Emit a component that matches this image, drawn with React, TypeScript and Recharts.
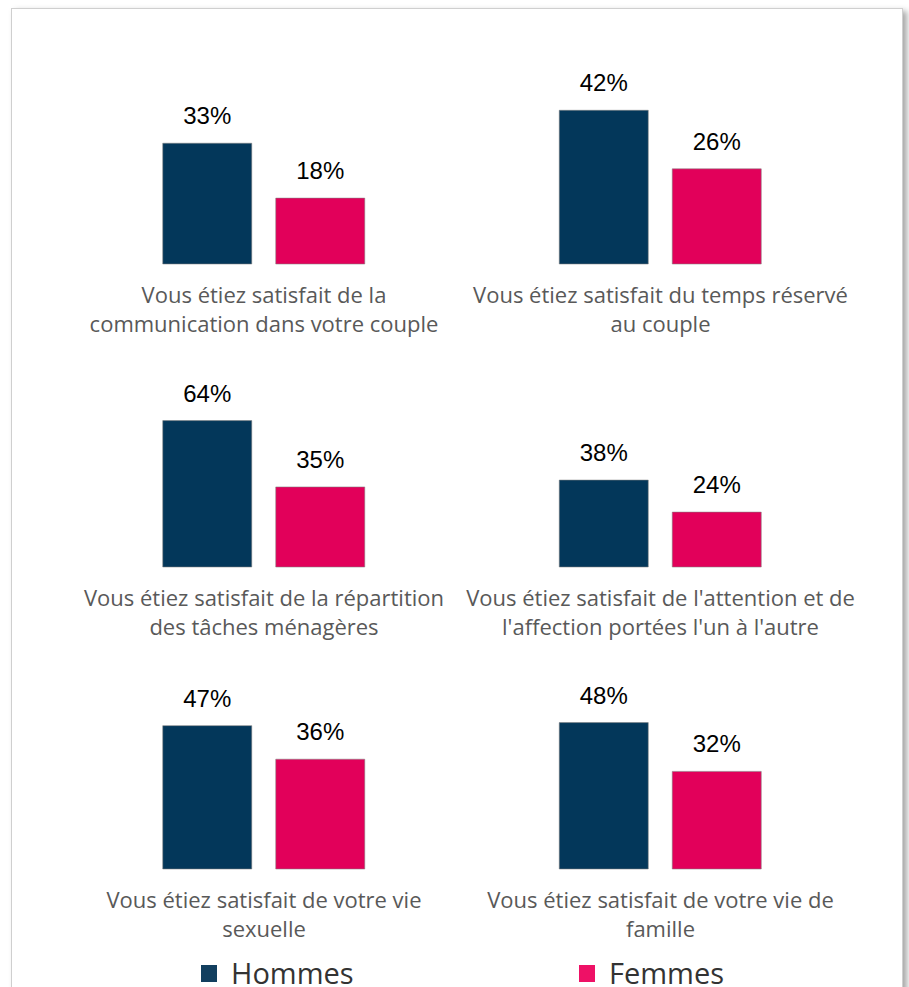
import { Bar, BarChart, LabelList, XAxis, YAxis } from 'recharts';

const HOMMES_COLOR = '#03375a';
const FEMMES_COLOR = '#e2005a';
const LABEL_GRAY = '#595959';

// one chart per row, each row has its own value axis (as in the source)
const ROW1_CATEGORIES = [
  'Vous étiez satisfait de la\ncommunication dans votre couple',
  'Vous étiez satisfait du temps réservé\nau couple',
];
const ROW1_HOMMES = [33, 42];
const ROW1_FEMMES = [18, 26];

const ROW2_CATEGORIES = [
  'Vous étiez satisfait de la répartition\ndes tâches ménagères',
  "Vous étiez satisfait de l'attention et de\nl'affection portées l'un à l'autre",
];
const ROW2_HOMMES = [64, 38];
const ROW2_FEMMES = [35, 24];

const ROW3_CATEGORIES = [
  'Vous étiez satisfait de votre vie\nsexuelle',
  'Vous étiez satisfait de votre vie de\nfamille',
];
const ROW3_HOMMES = [47, 48];
const ROW3_FEMMES = [36, 32];

const ROW_MAX = [50, 80, 60];
const ROW_TOP = [41, 344, 646];

const LEGEND_ITEMS = [
  { color: '#123f5f', label: 'Hommes', left: 201 },
  { color: '#ee1166', label: 'Femmes', left: 579 },
];

function buildRow(categories: string[], hommes: number[], femmes: number[]) {
  return categories.map((name, i) => ({ name, hommes: hommes[i], femmes: femmes[i] }));
}

const ROWS = [
  buildRow(ROW1_CATEGORIES, ROW1_HOMMES, ROW1_FEMMES),
  buildRow(ROW2_CATEGORIES, ROW2_HOMMES, ROW2_FEMMES),
  buildRow(ROW3_CATEGORIES, ROW3_HOMMES, ROW3_FEMMES),
];

function CategoryTick(props: any) {
  const { x, y, payload } = props;
  const lines = String(payload.value).split('\n');
  return (
    <text
      fill={LABEL_GRAY}
      fontFamily="'Open Sans', Roboto, sans-serif"
      fontSize={22}
      textAnchor="middle"
      x={x}
      y={y}
    >
      {lines.map((line, i) => (
        <tspan dy={i === 0 ? 39 : 29} key={line} x={x}>
          {line}
        </tspan>
      ))}
    </text>
  );
}

const percent = (value: any) => `${value}%`;

function RowChart(props: { data: any[]; max: number; top: number }) {
  return (
    <div style={{ left: 0, position: 'absolute', top: props.top }}>
      <BarChart
        barGap={24}
        data={props.data}
        height={300}
        margin={{ bottom: 6, left: 65.75, right: 50.25, top: 40 }}
        width={909}
      >
        <XAxis
          axisLine={false}
          dataKey="name"
          height={71}
          interval={0}
          tick={<CategoryTick />}
          tickLine={false}
          tickMargin={0}
          tickSize={0}
        />
        <YAxis domain={[0, props.max]} hide type="number" />
        <Bar
          barSize={89}
          dataKey="hommes"
          fill={HOMMES_COLOR}
          isAnimationActive={false}
          stroke="rgba(128,128,128,0.55)"
          strokeWidth={1}
        >
          <LabelList
            dataKey="hommes"
            fill="#000"
            fontFamily="'Liberation Sans', Arial, sans-serif"
            fontSize={24}
            formatter={percent}
            offset={19}
            position="top"
          />
        </Bar>
        <Bar
          barSize={89}
          dataKey="femmes"
          fill={FEMMES_COLOR}
          isAnimationActive={false}
          stroke="rgba(128,128,128,0.55)"
          strokeWidth={1}
        >
          <LabelList
            dataKey="femmes"
            fill="#000"
            fontFamily="'Liberation Sans', Arial, sans-serif"
            fontSize={24}
            formatter={percent}
            offset={19}
            position="top"
          />
        </Bar>
      </BarChart>
    </div>
  );
}

export default function App() {
  return (
    <div
      style={{
        background: '#fff',
        height: 987,
        left: 0,
        overflow: 'hidden',
        position: 'absolute',
        top: 0,
        width: 909,
      }}
    >
      <div
        style={{
          background: '#fff',
          border: '1px solid #cfcfcf',
          boxShadow: '4px 3px 6px rgba(0,0,0,0.35)',
          height: 1000,
          left: 11,
          position: 'absolute',
          top: 8,
          width: 890,
        }}
      />
      {ROWS.map((data, i) => (
        <RowChart data={data} key={i} max={ROW_MAX[i]} top={ROW_TOP[i]} />
      ))}
      {LEGEND_ITEMS.map((item) => (
        <div
          key={item.label}
          style={{
            alignItems: 'center',
            color: '#333',
            display: 'flex',
            fontFamily: "'Open Sans', sans-serif",
            fontSize: 29,
            left: item.left,
            lineHeight: '34px',
            position: 'absolute',
            top: 956,
          }}
        >
          <span
            style={{
              background: item.color,
              display: 'inline-block',
              height: 17,
              marginRight: 14,
              width: 16,
            }}
          />
          {item.label}
        </div>
      ))}
    </div>
  );
}
